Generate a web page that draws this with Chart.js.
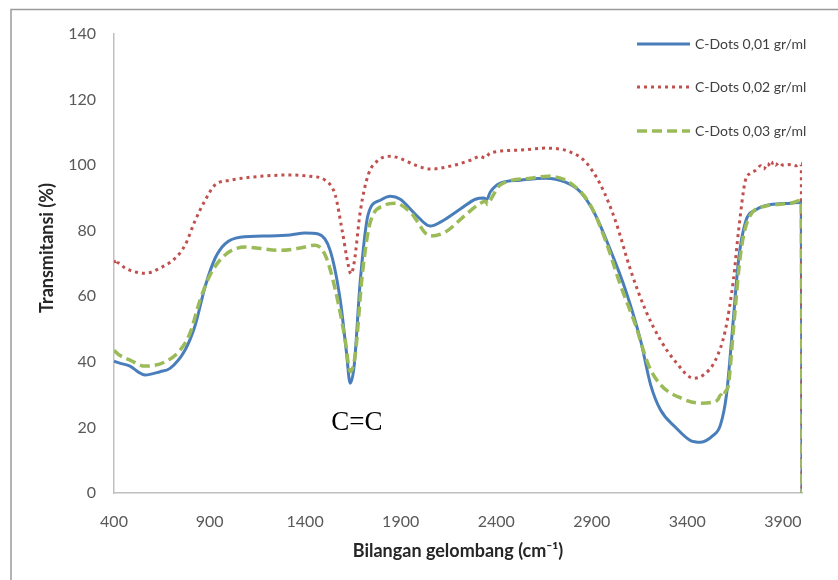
<!DOCTYPE html>
<html>
<head>
<meta charset="utf-8">
<script src="https://cdn.jsdelivr.net/npm/chart.js@4/dist/chart.umd.min.js"></script>
<style>
  html, body { margin: 0; padding: 0; background: #ffffff; }
  #wrap { width: 838px; height: 580px; position: relative; }
</style>
</head>
<body>
<div id="wrap"><canvas id="c" width="838" height="580"></canvas></div>
<script>
// ---- Data ----
const seriesLabels = ["C-Dots 0,01 gr/ml", "C-Dots 0,02 gr/ml", "C-Dots 0,03 gr/ml"];

const waveBlue = [400, 430, 484, 530, 562, 641, 693, 772, 824, 877, 929, 981, 1060, 1217, 1322, 1400, 1469, 1531, 1584, 1615, 1636, 1657, 1689, 1730, 1793, 1846, 1898, 1977, 2055, 2108, 2212, 2291, 2335, 2350, 2369, 2422, 2527, 2658, 2762, 2841, 2919, 2998, 3076, 3155, 3208, 3260, 3339, 3417, 3469, 3532, 3573, 3605, 3636, 3668, 3704, 3757, 3836, 3941, 3996, 4000];
const transBlue = [40.2, 39.6, 38.7, 36.8, 36, 37, 38, 43.6, 51, 63, 71.6, 76, 78, 78.4, 78.7, 79.3, 79, 74, 58.8, 43.6, 33.5, 39, 65, 85, 89.3, 90.5, 89.6, 85, 81.4, 82.6, 86.6, 89.6, 90, 89.5, 91.8, 94.5, 95.4, 96, 94.8, 91.8, 84.8, 74, 62, 46.6, 33, 25.3, 20, 16, 15.5, 17.4, 20.7, 30, 49.7, 71, 82.6, 86.3, 88, 88.4, 88.7, 0];

const waveRed = [400, 410, 420, 458, 500, 562, 641, 720, 772, 824, 877, 929, 1008, 1112, 1322, 1427, 1505, 1558, 1594, 1626, 1640, 1657, 1689, 1730, 1783, 1846, 1898, 1977, 2055, 2160, 2265, 2317, 2340, 2369, 2527, 2658, 2789, 2867, 2946, 3024, 3103, 3181, 3260, 3339, 3433, 3484, 3547, 3599, 3641, 3668, 3704, 3730, 3760, 3784, 3800, 3820, 3836, 3850, 3862, 3880, 3900, 3941, 3970, 3996, 4000];
const transRed = [71, 69.5, 70.2, 68.6, 67.6, 67, 68.6, 71.6, 75.6, 83, 89.3, 94, 95.4, 96.3, 97, 96.6, 95.4, 90.8, 80, 69.5, 66.8, 70.4, 86, 97, 101.5, 102.7, 102, 100, 98.8, 99.7, 101.5, 102.7, 102.2, 103.7, 104.6, 105.2, 104, 101, 94, 83, 68, 55.8, 46.6, 40, 35, 36, 40.5, 49.7, 65, 80, 95.4, 97.5, 98.5, 99.8, 98.8, 100.5, 99.5, 101, 100, 100.8, 100, 100.2, 99.8, 100.5, 0];

const waveGreen = [400, 430, 484, 562, 667, 746, 798, 850, 903, 981, 1086, 1270, 1374, 1453, 1505, 1558, 1610, 1636, 1662, 1699, 1741, 1819, 1872, 1950, 2055, 2134, 2239, 2317, 2345, 2355, 2369, 2422, 2579, 2673, 2789, 2893, 2972, 3050, 3129, 3197, 3260, 3365, 3469, 3532, 3560, 3575, 3584, 3600, 3615, 3641, 3678, 3721, 3810, 3941, 3996, 4000];
const transGreen = [43.5, 42, 40.5, 38.7, 40, 43.6, 48.8, 58.8, 66.5, 72.6, 75, 74, 74.7, 75.6, 72.6, 62, 46.6, 37, 42, 66.5, 82.6, 87.8, 88.4, 85.7, 78.4, 79.6, 84.8, 88.4, 89, 88, 89.3, 94, 96, 96.6, 94.5, 87.8, 77, 63.4, 51.2, 39, 33, 29, 27.4, 27.7, 28.5, 30, 29.3, 31, 33, 49.7, 72.6, 83.8, 87.5, 88.4, 89.3, 0];

const xTickValues = [400, 900, 1400, 1900, 2400, 2900, 3400, 3900];
const yTickValues = [0, 20, 40, 60, 80, 100, 120, 140];
const xTitle = "Bilangan gelombang (cm\u207B\u00B9)";
const yTitle = "Transmitansi (%)";
const peakLabel = { text: "C=C", x: 1640, y: 19.3 };

// ---- Build ----
function pts(xs, ys) { return xs.map((x, i) => ({ x: x, y: ys[i] })); }

const colors = ["#4A7EBB", "#C0504D", "#9BBB59"];

const frameAndExtras = {
  id: 'frameAndExtras',
  afterDraw(chart) {
    const ctx = chart.ctx;
    const xs = chart.scales.x, ys = chart.scales.y;
    ctx.save();
    // outer frame (top & left)
    ctx.strokeStyle = "#9a9a9a";
    ctx.lineWidth = 1.5;
    ctx.beginPath();
    ctx.moveTo(11, 580); ctx.lineTo(11, 9.5); ctx.lineTo(838, 9.5);
    ctx.stroke();

    // axis titles
    ctx.fillStyle = "#262626";
    ctx.font = "bold 18px Lato, 'Open Sans', sans-serif";
    ctx.textAlign = "center";
    ctx.textBaseline = "middle";
    ctx.fillText(xTitle, 458, 551);
    ctx.save();
    ctx.translate(47, 248);
    ctx.rotate(-Math.PI / 2);
    ctx.fillText(yTitle, 0, 0);
    ctx.restore();

    // annotation
    ctx.fillStyle = "#000000";
    ctx.font = "27px 'Liberation Serif', 'Times New Roman', serif";
    ctx.textAlign = "center";
    ctx.textBaseline = "alphabetic";
    ctx.fillText(peakLabel.text, xs.getPixelForValue(peakLabel.x) + 6, ys.getPixelForValue(peakLabel.y));

    // legend
    const rows = [44, 87, 131];
    chart.data.datasets.forEach((ds, i) => {
      ctx.save();
      ctx.strokeStyle = ds.borderColor;
      ctx.lineWidth = ds.borderWidth;
      ctx.setLineDash(ds.borderDash || []);
      ctx.beginPath();
      ctx.moveTo(637, rows[i]);
      ctx.lineTo(690, rows[i]);
      ctx.stroke();
      ctx.restore();
      ctx.fillStyle = "#404040";
      ctx.font = "14px Lato, 'Open Sans', sans-serif";
      ctx.textAlign = "left";
      ctx.textBaseline = "middle";
      ctx.fillText(ds.label, 695, rows[i]);
    });
    ctx.restore();
  }
};

const chart = new Chart(document.getElementById('c'), {
  type: 'line',
  data: {
    datasets: [
      { label: seriesLabels[0], data: pts(waveBlue, transBlue), borderColor: colors[0], borderWidth: 3, order: 2 },
      { label: seriesLabels[1], data: pts(waveRed, transRed), borderColor: colors[1], borderWidth: 3, borderDash: [3, 4], order: 1 },
      { label: seriesLabels[2], data: pts(waveGreen, transGreen), borderColor: colors[2], borderWidth: 3.5, borderDash: [10, 5], order: 0 }
    ]
  },
  options: {
    responsive: false,
    animation: false,
    devicePixelRatio: 1,
    layout: { padding: { left: 0, right: 36, top: 34, bottom: 0 } },
    elements: {
      point: { radius: 0, hoverRadius: 0 },
      line: { cubicInterpolationMode: 'monotone', fill: false }
    },
    plugins: { legend: { display: false }, tooltip: { enabled: false } },
    scales: {
      x: {
        type: 'linear', min: 400, max: 4000,
        afterBuildTicks: (s) => { s.ticks = xTickValues.map(v => ({ value: v })); },
        afterFit: (s) => { s.height = 87; },
        grid: { display: false, drawTicks: false },
        border: { display: true, color: "#bfbfbf", width: 1.5 },
        ticks: { color: "#595959", padding: 19, maxRotation: 0, callback: (v) => String(v), font: { family: "Lato, 'Open Sans', sans-serif", size: 16 } }
      },
      y: {
        type: 'linear', min: 0, max: 140,
        afterBuildTicks: (s) => { s.ticks = yTickValues.map(v => ({ value: v })); },
        afterFit: (s) => { s.width = 114; },
        grid: { display: false, drawTicks: false },
        border: { display: true, color: "#bfbfbf", width: 1.5 },
        ticks: { color: "#595959", padding: 18, callback: (v) => String(v), font: { family: "Lato, 'Open Sans', sans-serif", size: 16 } }
      }
    }
  },
  plugins: [frameAndExtras]
});
</script>
</body>
</html>
